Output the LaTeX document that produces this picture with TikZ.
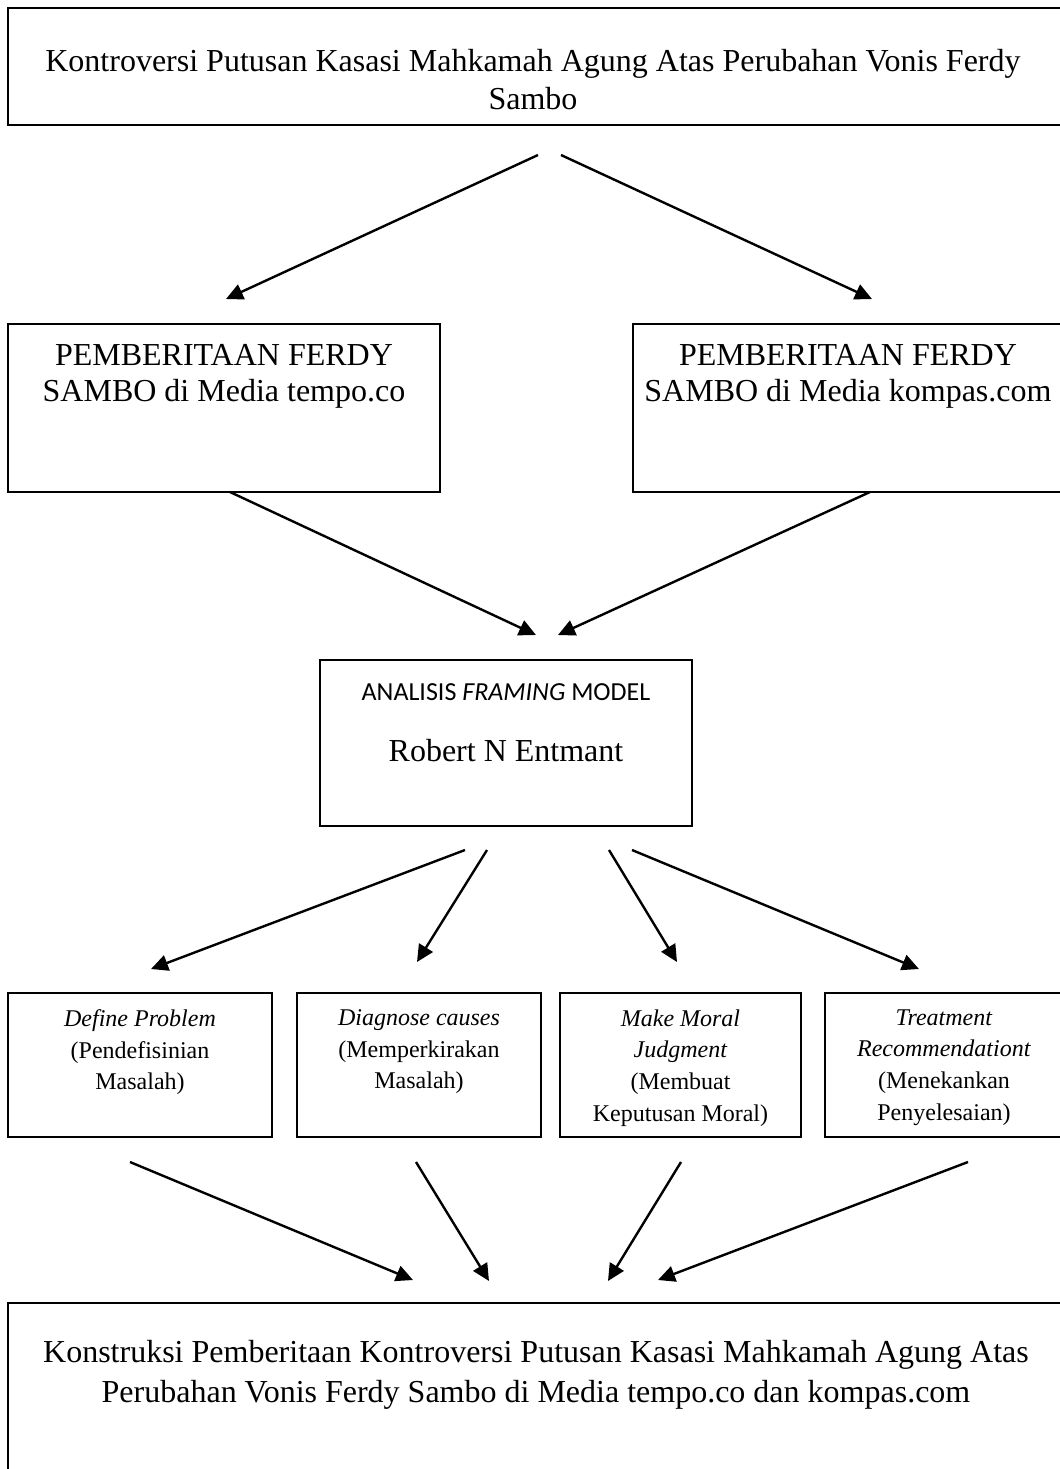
\documentclass[tikz,border=0pt]{standalone}
\usepackage{fontspec}
\setmainfont{Liberation Serif}
\newfontfamily\calibrifont{Carlito}
\usetikzlibrary{arrows.meta,calc,positioning}

\begin{document}
\begin{tikzpicture}[x=0.5pt,y=-0.5pt,>={Triangle[length=8.5pt,width=8pt]},line join=miter]
\useasboundingbox (0,0) rectangle (1060,1469);
\tikzset{frame/.style={draw=black,line width=0.9pt,inner sep=0pt},
  bigtxt/.style={align=center,inner sep=0pt,anchor=north,font=\fontsize{16}{19}\selectfont},
  smalltxt/.style={align=center,inner sep=0pt,anchor=north,font=\fontsize{12}{15.9}\selectfont},
  link/.style={draw=black,line width=1.2pt,->}}
% boxes
\node[frame,minimum width=528pt,minimum height=58.5pt] (kontroversi) at (536,66.5) {};
\node[frame,minimum width=216pt,minimum height=84pt] (tempo) at (224,408) {};
\node[frame,minimum width=215pt,minimum height=84pt] (kompas) at (848,408) {};
\node[frame,minimum width=186pt,minimum height=83pt] (analisis) at (506,743) {};
\node[frame,minimum width=132pt,minimum height=72pt] (define) at (140,1065) {};
\node[frame,minimum width=122pt,minimum height=72pt] (diagnose) at (419,1065) {};
\node[frame,minimum width=120.5pt,minimum height=72pt] (moral) at (680.5,1065) {};
\node[frame,minimum width=119pt,minimum height=72pt] (treatment) at (944,1065) {};
\node[frame,minimum width=528pt,minimum height=86pt] (konstruksi) at (536,1389) {};
% texts
\node[bigtxt] (kontroversiT) at (533,49) {Kontroversi Putusan Kasasi Mahkamah Agung Atas Perubahan Vonis Ferdy\\Sambo};
\node[bigtxt,font=\fontsize{16}{18}\selectfont] (tempoT) at (224,344) {PEMBERITAAN FERDY\\SAMBO di Media tempo.co};
\node[bigtxt,font=\fontsize{16}{18}\selectfont] (kompasT) at (848,344) {PEMBERITAAN FERDY\\SAMBO di Media kompas.com};
\node[bigtxt,font=\calibrifont\fontsize{13}{16}\selectfont] (analisisT) at (506,683) {ANALISIS \textit{FRAMING} MODEL};
\node[bigtxt] (entmantT) at (506,739) {Robert N Entmant};
\node[smalltxt] (defineT) at (140,1009) {\textit{Define Problem}\\(Pendefisinian\\Masalah)};
\node[smalltxt] (diagnoseT) at (419,1009) {\textit{Diagnose causes}\\(Memperkirakan\\Masalah)};
\node[smalltxt] (moralT) at (680.5,1009) {\textit{Make Moral}\\\textit{Judgment}\\(Membuat\\Keputusan Moral)};
\node[smalltxt] (treatmentT) at (944,1009) {\textit{Treatment}\\\textit{Recommendationt}\\(Menekankan\\Penyelesaian)};
\node[bigtxt,font=\fontsize{16}{20}\selectfont] (konstruksiT) at (536,1340) {Konstruksi Pemberitaan Kontroversi Putusan Kasasi Mahkamah Agung Atas\\Perubahan Vonis Ferdy Sambo di Media tempo.co dan kompas.com};
% arrow ends
\coordinate (a1) at (538,155); \coordinate (b1) at (226,299);
\coordinate (a2) at (561,155); \coordinate (b2) at (872,299);
\coordinate (a3) at (230,492); \coordinate (b3) at (536,635);
\coordinate (a4) at (870,492); \coordinate (b4) at (558,635);
\coordinate (a5) at (465,850); \coordinate (b5) at (151,969);
\coordinate (a6) at (487,850); \coordinate (b6) at (417,962);
\coordinate (a7) at (609,850); \coordinate (b7) at (677,962);
\coordinate (a8) at (632,850); \coordinate (b8) at (919,969);
\coordinate (a9) at (130,1162); \coordinate (b9) at (413,1280);
\coordinate (a10) at (416,1162); \coordinate (b10) at (489,1281);
\coordinate (a11) at (681,1162); \coordinate (b11) at (608,1281);
\coordinate (a12) at (968,1162); \coordinate (b12) at (658,1280);
\foreach \i in {1,...,12}
  \draw[link] (a\i) -- (b\i);
\end{tikzpicture}
\end{document}
